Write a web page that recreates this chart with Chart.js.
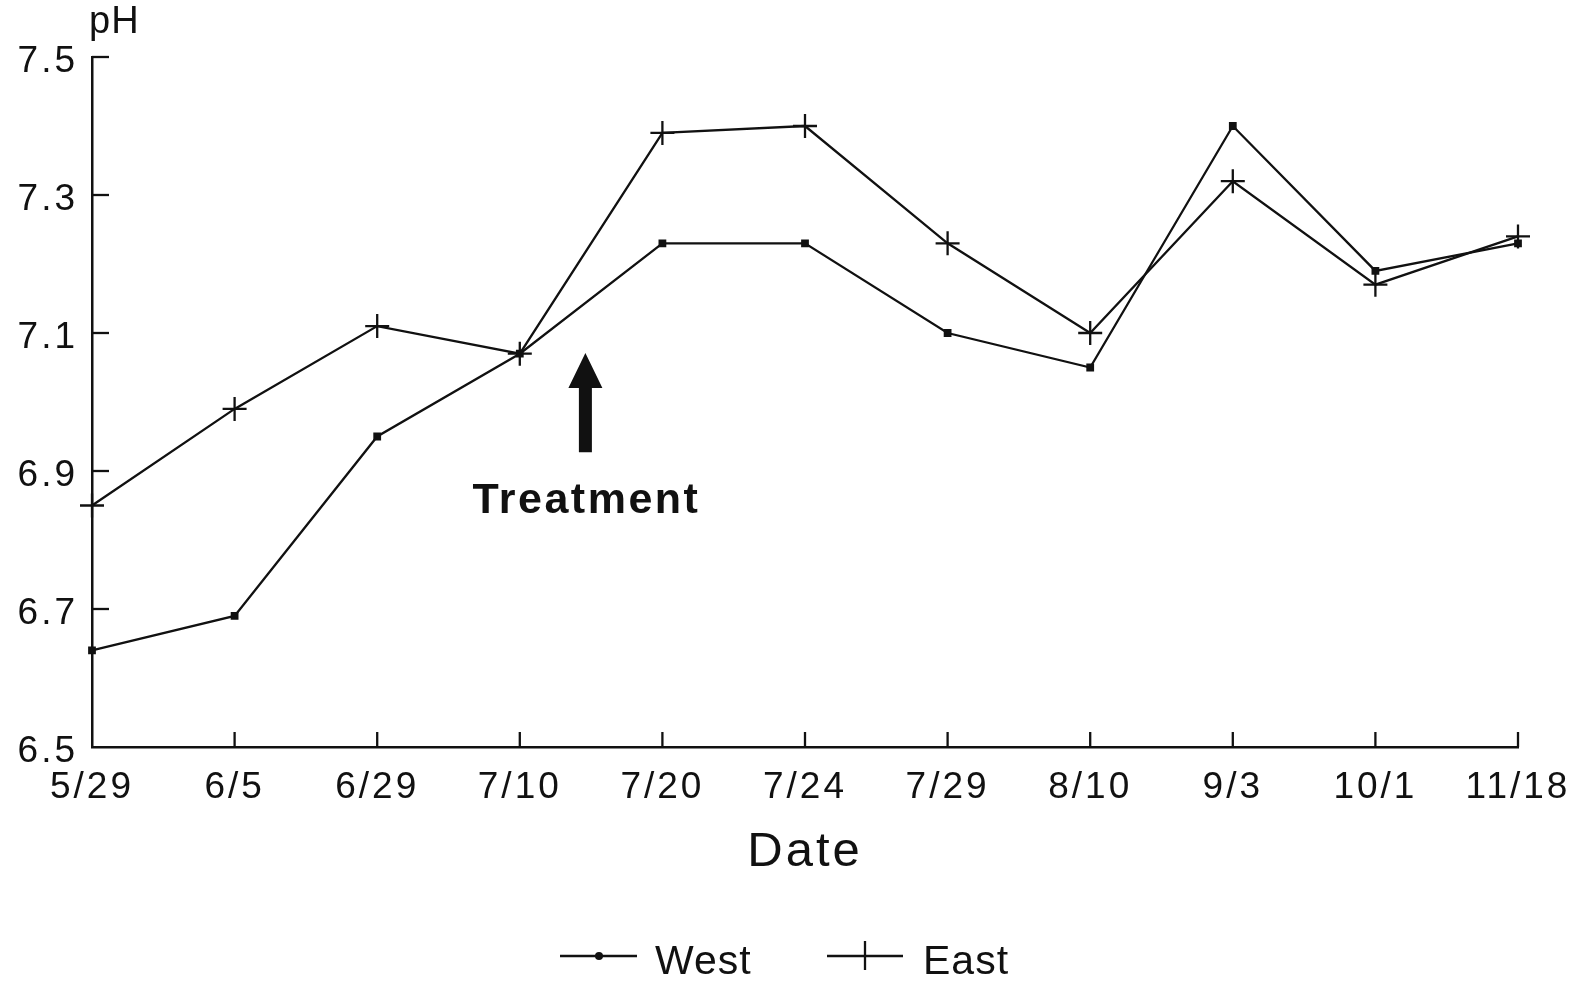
<!DOCTYPE html>
<html>
<head>
<meta charset="utf-8">
<script src="https://cdn.jsdelivr.net/npm/chart.js@4.4.0/dist/chart.umd.min.js"></script>
<style>
html, body { margin: 0; padding: 0; background: #fff; }
#wrap { width: 1579px; height: 986px; }
</style>
</head>
<body>
<div id="wrap"><canvas id="chart-ph"></canvas></div>
<script>
// Datas de amostragem e pH lido em cada lado
const datas = ['5/29', '6/5', '6/29', '7/10', '7/20', '7/24', '7/29', '8/10', '9/3', '10/1', '11/18'];
const phWest = [6.64, 6.69, 6.95, 7.07, 7.23, 7.23, 7.10, 7.05, 7.40, 7.19, 7.23];
const phEast = [6.85, 6.99, 7.11, 7.07, 7.39, 7.40, 7.23, 7.10, 7.32, 7.17, 7.24];
const yTicks = [6.5, 6.7, 6.9, 7.1, 7.3, 7.5];

const tinta = '#111';
const fonte = 'Liberation Sans, Arial, sans-serif';

function linha(ctx, x1, y1, x2, y2) {
    ctx.beginPath();
    ctx.moveTo(x1, y1);
    ctx.lineTo(x2, y2);
    ctx.stroke();
}

// Marcas internas, seta de tratamento e legenda
const extras = {
    id: 'extras',
    beforeDraw(chart) {
        chart.ctx.letterSpacing = '3px';
    },
    afterDraw(chart) {
        const ctx = chart.ctx;
        const x = chart.scales.x;
        const y = chart.scales.y;
        const area = chart.chartArea;
        ctx.save();
        ctx.letterSpacing = '0px';
        ctx.strokeStyle = tinta;
        ctx.fillStyle = tinta;
        ctx.lineWidth = 2.3;

        yTicks.slice(1).forEach(v => {
            const py = y.getPixelForValue(v);
            linha(ctx, area.left, py, area.left + 17, py);
        });
        datas.forEach((d, i) => {
            if (i === 0) return;
            const px = x.getPixelForValue(i);
            linha(ctx, px, area.bottom, px, area.bottom - 15);
        });

        ctx.font = '38px ' + fonte;
        ctx.letterSpacing = '1px';
        ctx.textAlign = 'left';
        ctx.textBaseline = 'alphabetic';
        ctx.fillText('pH', area.left - 3, 33);

        // seta entre 7/10 e 7/20
        const x3 = x.getPixelForValue(3), x4 = x.getPixelForValue(4);
        const ax = x3 + 0.46 * (x4 - x3);
        const topo = y.getPixelForValue(7.071);
        const base = y.getPixelForValue(6.927);
        const headH = 35, headW = 34, haste = 13;
        ctx.beginPath();
        ctx.moveTo(ax, topo);
        ctx.lineTo(ax + headW / 2, topo + headH);
        ctx.lineTo(ax + haste / 2, topo + headH);
        ctx.lineTo(ax + haste / 2, base);
        ctx.lineTo(ax - haste / 2, base);
        ctx.lineTo(ax - haste / 2, topo + headH);
        ctx.lineTo(ax - headW / 2, topo + headH);
        ctx.closePath();
        ctx.fill();

        ctx.font = 'bold 43px ' + fonte;
        ctx.letterSpacing = '2.5px';
        ctx.textAlign = 'center';
        ctx.fillText('Treatment', ax + 1, base + 61);

        // legenda
        ctx.letterSpacing = '1px';
        ctx.font = '41px ' + fonte;
        ctx.textAlign = 'left';
        const ly = 956;
        linha(ctx, 560, ly, 637, ly);
        ctx.beginPath();
        ctx.arc(599, ly, 4, 0, Math.PI * 2);
        ctx.fill();
        ctx.fillText('West', 655, 974);
        linha(ctx, 827, ly, 903, ly);
        linha(ctx, 865, ly - 15, 865, ly + 14);
        ctx.fillText('East', 923, 974);

        ctx.restore();
    }
};

const ctx = document.getElementById('chart-ph').getContext('2d');
const grafico = new Chart(ctx, {
    type: 'line',
    data: {
        labels: datas,
        datasets: [{
            label: 'West',
            data: phWest,
            borderColor: tinta,
            backgroundColor: tinta,
            borderWidth: 2.3,
            pointStyle: 'rect',
            pointRadius: 5.5,
            pointBorderWidth: 0,
            tension: 0
        }, {
            label: 'East',
            data: phEast,
            borderColor: tinta,
            backgroundColor: tinta,
            borderWidth: 2.3,
            pointStyle: 'cross',
            pointRadius: 12,
            pointBorderWidth: 2.3,
            tension: 0
        }]
    },
    options: {
        responsive: true,
        maintainAspectRatio: false,
        animation: false,
        layout: {
            padding: { top: 57, right: 61, bottom: 102, left: 0 }
        },
        plugins: {
            legend: { display: false },
            tooltip: { enabled: false }
        },
        scales: {
            x: {
                offset: false,
                grid: { display: false, drawTicks: false },
                border: { display: true, color: tinta, width: 2.5 },
                ticks: {
                    color: tinta,
                    font: { family: fonte, size: 37 },
                    padding: 19,
                    maxRotation: 0,
                    autoSkip: false
                },
                title: {
                    display: true,
                    text: 'Date',
                    color: tinta,
                    font: { family: fonte, size: 49 },
                    padding: { top: 0, bottom: 2 }
                },
                afterFit(scale) {
                    scale.height = 137;
                    scale.paddingLeft = 0;
                    scale.paddingRight = 0;
                }
            },
            y: {
                min: 6.5,
                max: 7.5,
                grid: { display: false, drawTicks: false },
                border: { display: true, color: tinta, width: 2.5 },
                ticks: {
                    color: tinta,
                    font: { family: fonte, size: 37 },
                    padding: 14,
                    labelOffset: 5,
                    callback: v => Number(v).toFixed(1)
                },
                afterBuildTicks(scale) {
                    scale.ticks = yTicks.map(v => ({ value: v }));
                },
                afterFit(scale) {
                    scale.width = 92;
                    scale.paddingTop = 0;
                    scale.paddingBottom = 0;
                }
            }
        }
    },
    plugins: [extras]
});
</script>
</body>
</html>
